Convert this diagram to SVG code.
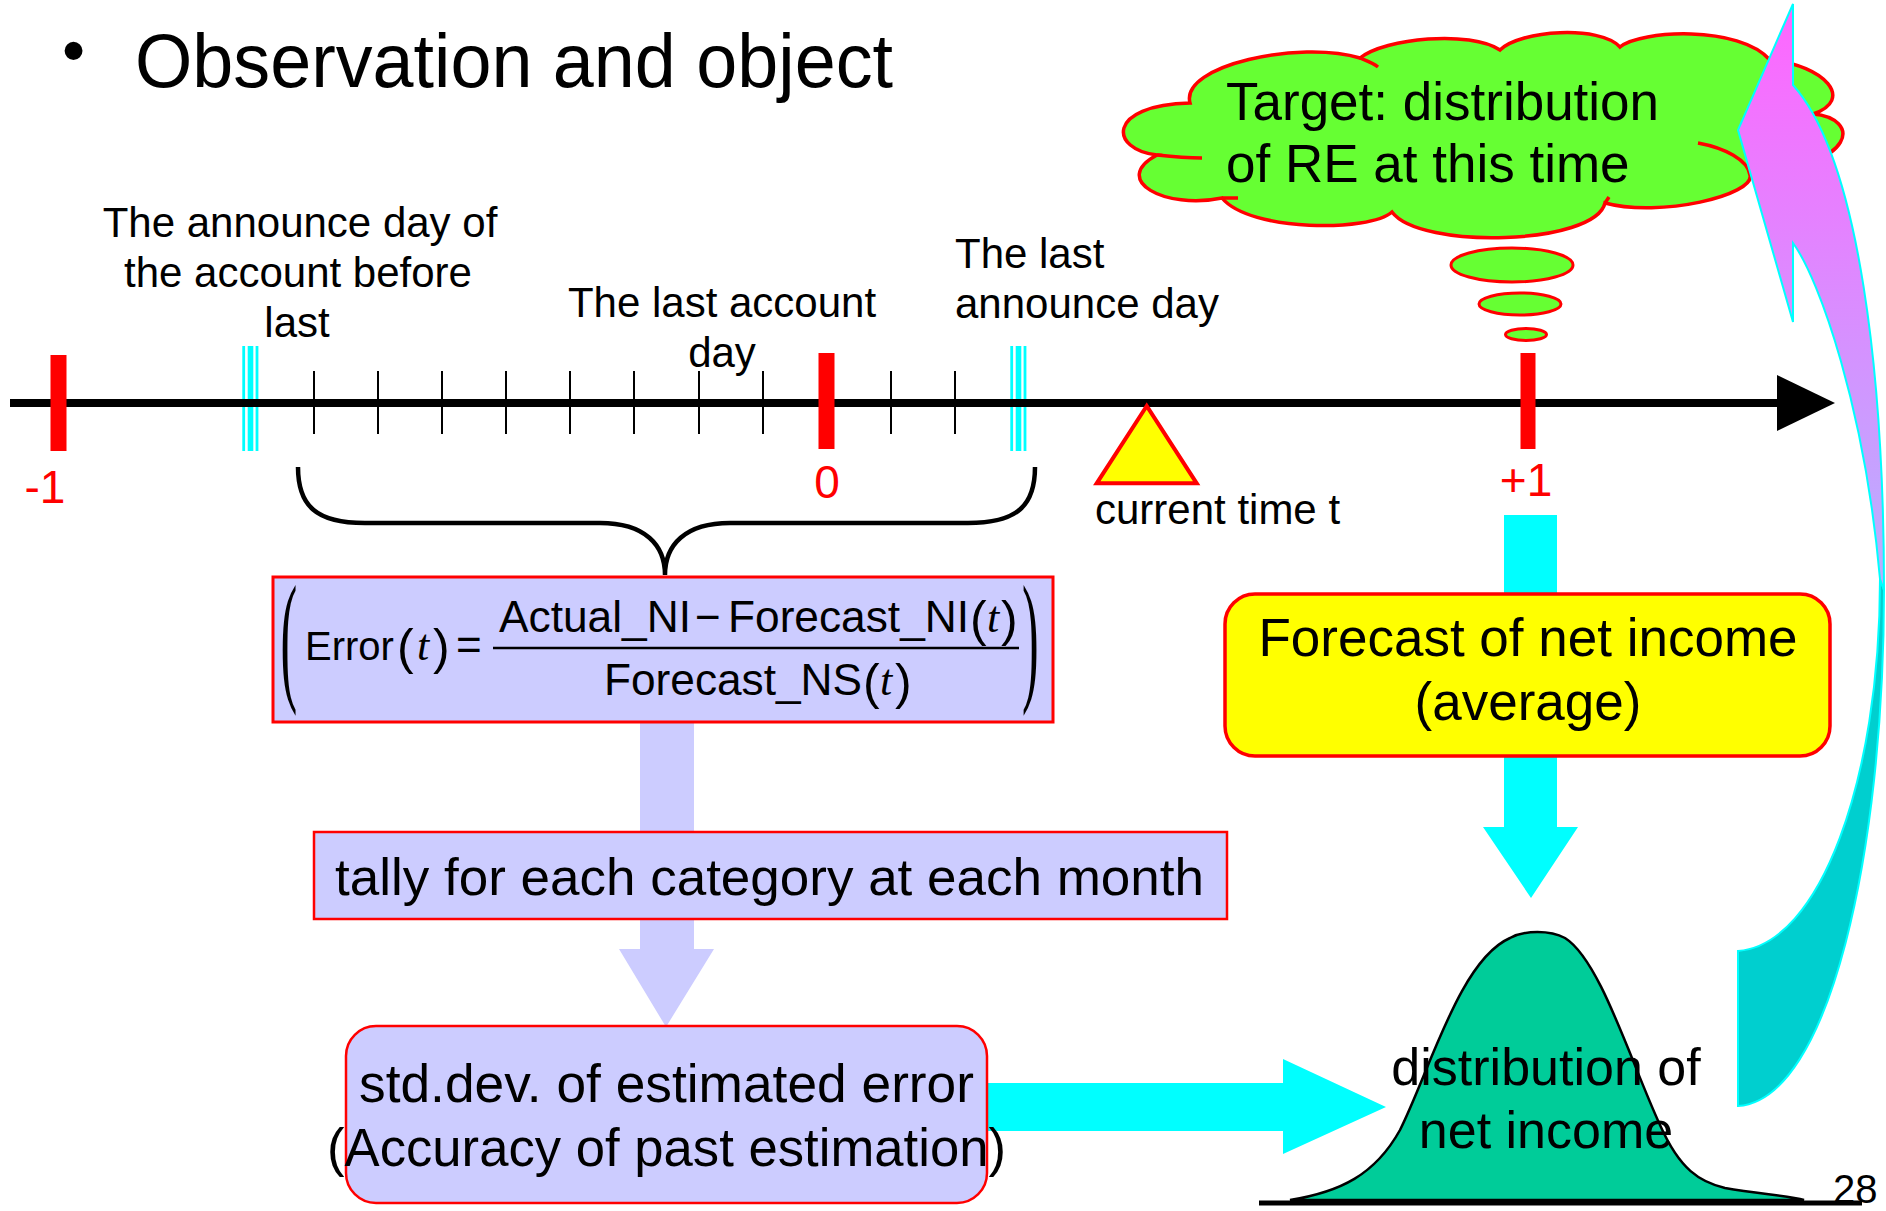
<svg xmlns="http://www.w3.org/2000/svg" width="1886" height="1211" viewBox="0 0 1886 1211">
<style>
text{font-family:"Liberation Sans",Arial,sans-serif;fill:#000}
.lbl{font-size:42px}
.red{fill:#f00}
.tick{stroke:#000;stroke-width:2}
.it{font-family:"Liberation Serif","Times New Roman",serif;font-style:italic}
.big{font-size:53px}
.bp{font-family:"Liberation Serif","Times New Roman",serif;font-size:50px}
</style>
<defs>
<linearGradient id="mag" x1="0" y1="4" x2="0" y2="585" gradientUnits="userSpaceOnUse">
<stop offset="0" stop-color="#ff66ff"/>
<stop offset="1" stop-color="#b8b0ff"/>
</linearGradient>
</defs>
<rect width="1886" height="1211" fill="#fff"/>
<g id="title">
<text x="62" y="73" font-size="66">•</text>
<text x="135" y="87" font-size="76" textLength="758" lengthAdjust="spacingAndGlyphs">Observation and object</text>
</g>
<g id="timeline">
<g fill="#00ffff">
<rect x="242.3" y="346" width="2.8" height="105"/>
<rect x="247.7" y="346" width="5.6" height="105"/>
<rect x="255.6" y="346" width="2.8" height="105"/>
<rect x="1010.3" y="346" width="2.8" height="105"/>
<rect x="1015.7" y="346" width="5.6" height="105"/>
<rect x="1023.6" y="346" width="2.8" height="105"/>
</g>
<line x1="10" y1="403" x2="1780" y2="403" stroke="#000" stroke-width="8"/>
<polygon points="1777,375 1835,403 1777,431" fill="#000"/>
<g class="tick">
<line x1="314" y1="371" x2="314" y2="434"/><line x1="378" y1="371" x2="378" y2="434"/>
<line x1="442" y1="371" x2="442" y2="434"/><line x1="506" y1="371" x2="506" y2="434"/>
<line x1="570" y1="371" x2="570" y2="434"/><line x1="634" y1="371" x2="634" y2="434"/>
<line x1="699" y1="371" x2="699" y2="434"/><line x1="763" y1="371" x2="763" y2="434"/>
<line x1="891" y1="371" x2="891" y2="434"/><line x1="955" y1="371" x2="955" y2="434"/>
</g>
<g fill="#f00">
<rect x="50.5" y="355" width="16" height="96"/>
<rect x="818.5" y="353" width="16" height="96"/>
<rect x="1520.5" y="353" width="15" height="96"/>
</g>
<text class="red" x="45" y="503" font-size="46" text-anchor="middle">-1</text>
<text class="red" x="827" y="498" font-size="46" text-anchor="middle">0</text>
<text class="red" x="1526" y="496" font-size="46" text-anchor="middle">+1</text>
</g>
<g id="labels" class="lbl">
<text x="300" y="237" text-anchor="middle">The announce day of</text>
<text x="298" y="287" text-anchor="middle">the account before</text>
<text x="297" y="337" text-anchor="middle">last</text>
<text x="722" y="317" text-anchor="middle">The last account</text>
<text x="722" y="367" text-anchor="middle">day</text>
<text x="955" y="268">The last</text>
<text x="955" y="318">announce day</text>
</g>
<g id="current-time">
<polygon points="1146.7,406 1096.7,483.3 1196.7,483.3" fill="#ff0" stroke="#f00" stroke-width="4"/>
<text class="lbl" x="1095" y="524">current time t</text>
</g>
<g id="target-cloud">
<path d="M1190,103 C1180,65 1300,40 1360,58 C1385,38 1470,30 1500,50 C1520,30 1600,25 1620,47 C1640,30 1740,25 1770,60 C1825,65 1855,100 1813,114 C1860,118 1860,165 1750,175 C1755,195 1660,218 1605,203 C1595,245 1420,250 1392,212 C1370,232 1250,232 1222,198 C1165,210 1110,180 1157,155 C1110,150 1105,105 1190,103 Z" fill="#66ff33" stroke="#f00" stroke-width="3.5"/>
<g fill="none" stroke="#f00" stroke-width="3.5">
<path d="M1157,155 C1175,157 1190,158 1202,158"/>
<path d="M1360,58 C1367,61 1373,63 1378,67"/>
<path d="M1698,143 C1725,148 1748,160 1750,175"/>
<path d="M1222,198 L1238,198"/>
<path d="M1605,203 L1609,197"/>
</g>
<ellipse cx="1512" cy="265" rx="61" ry="17" fill="#66ff33" stroke="#f00" stroke-width="3"/>
<ellipse cx="1520" cy="304" rx="41" ry="11" fill="#66ff33" stroke="#f00" stroke-width="3"/>
<ellipse cx="1526" cy="334.5" rx="20.5" ry="6" fill="#66ff33" stroke="#f00" stroke-width="3"/>
<text class="big" x="1226" y="120">Target: distribution</text>
<text class="big" x="1226" y="182">of RE at this time</text>
</g>
<g id="connectors">
<path d="M298,467 C298,505 315,523 365,523 L600,523 C645,523 665,545 665,575 C665,545 685,523 730,523 L968,523 C1018,523 1035,505 1035,467" fill="none" stroke="#000" stroke-width="4.5"/>
<polygon points="640,720 694,720 694,949 714,949 666,1027 619,949 640,949" fill="#ccccff"/>
<polygon points="1504,515 1557,515 1557,827 1578,827 1531,898 1483,827 1504,827" fill="#00ffff"/>
<polygon points="985,1083 1283,1083 1283,1059 1386,1107 1283,1154 1283,1131 985,1131" fill="#00ffff"/>
<path d="M1880,579 C1880,780 1820,945 1738,951 L1738,1106 C1830,1100 1884,850 1884,590 Z" fill="#00cfcf" stroke="#00ffff" stroke-width="2"/>
<path d="M1793,4 L1738,130 L1793,322 L1793,243 C1820,280 1865,410 1880,579 L1884,590 C1884,380 1860,160 1793,85 Z" fill="url(#mag)" stroke="#00ffff" stroke-width="2"/>
</g>
<g id="error-formula">
<rect x="273" y="577" width="780" height="145" fill="#ccccff" stroke="#f00" stroke-width="3"/>
<text class="bp" transform="scale(1,2.86)" x="280.6" y="239.4">(</text>
<text class="bp" transform="scale(1,2.86)" x="1022" y="239.4">)</text>
<text x="305" y="660" font-size="40">Error</text>
<text x="397" y="664" font-size="50">(</text>
<text class="it" x="417" y="660" font-size="44">t</text>
<text x="433" y="664" font-size="50">)</text>
<text x="456" y="660" font-size="44">=</text>
<line x1="493" y1="648" x2="1019" y2="648" stroke="#000" stroke-width="2.5"/>
<text x="499" y="632" font-size="44" textLength="192" lengthAdjust="spacingAndGlyphs">Actual_NI</text>
<text x="695" y="632" font-size="44">−</text>
<text x="728" y="632" font-size="44" textLength="241" lengthAdjust="spacingAndGlyphs">Forecast_NI</text>
<text x="970" y="636" font-size="50">(</text>
<text class="it" x="987" y="632" font-size="44">t</text>
<text x="1001" y="636" font-size="50">)</text>
<text x="604" y="695" font-size="44" textLength="258" lengthAdjust="spacingAndGlyphs">Forecast_NS</text>
<text x="863" y="699" font-size="50">(</text>
<text class="it" x="880" y="695" font-size="44">t</text>
<text x="895" y="699" font-size="50">)</text>
</g>
<g id="tally">
<rect x="314" y="832" width="913" height="87" fill="#ccccff" stroke="#f00" stroke-width="2.5"/>
<text x="335" y="895" font-size="52" textLength="869" lengthAdjust="spacingAndGlyphs">tally for each category at each month</text>
</g>
<g id="std-dev">
<rect x="346" y="1026" width="641" height="177" rx="30" ry="30" fill="#ccccff" stroke="#f00" stroke-width="2.5"/>
<text x="359" y="1102" font-size="53" textLength="615" lengthAdjust="spacingAndGlyphs">std.dev. of estimated error</text>
<text x="327" y="1166" font-size="53" textLength="679" lengthAdjust="spacingAndGlyphs">(Accuracy of past estimation)</text>
</g>
<g id="forecast">
<rect x="1225" y="594" width="605" height="162" rx="30" ry="30" fill="#ff0" stroke="#f00" stroke-width="3.5"/>
<text class="big" x="1528" y="656" text-anchor="middle">Forecast of net income</text>
<text class="big" x="1528" y="720" text-anchor="middle">(average)</text>
</g>
<g id="distribution">
<path d="M1290,1200 C1340,1192 1375,1175 1400,1130 C1430,1070 1460,960 1510,938 C1525,930 1550,930 1565,938 C1600,960 1630,1060 1660,1125 C1680,1170 1700,1182 1725,1188 C1760,1194 1790,1196 1804,1200 Z" fill="#00cc99" stroke="#000" stroke-width="2.5"/>
<line x1="1259" y1="1203" x2="1862" y2="1203" stroke="#000" stroke-width="5"/>
<text x="1546" y="1085" font-size="52" text-anchor="middle">distribution of</text>
<text x="1546" y="1148" font-size="52" text-anchor="middle">net income</text>
</g>
<g id="page-number">
<text x="1833" y="1203" font-size="40">28</text>
</g>
</svg>
